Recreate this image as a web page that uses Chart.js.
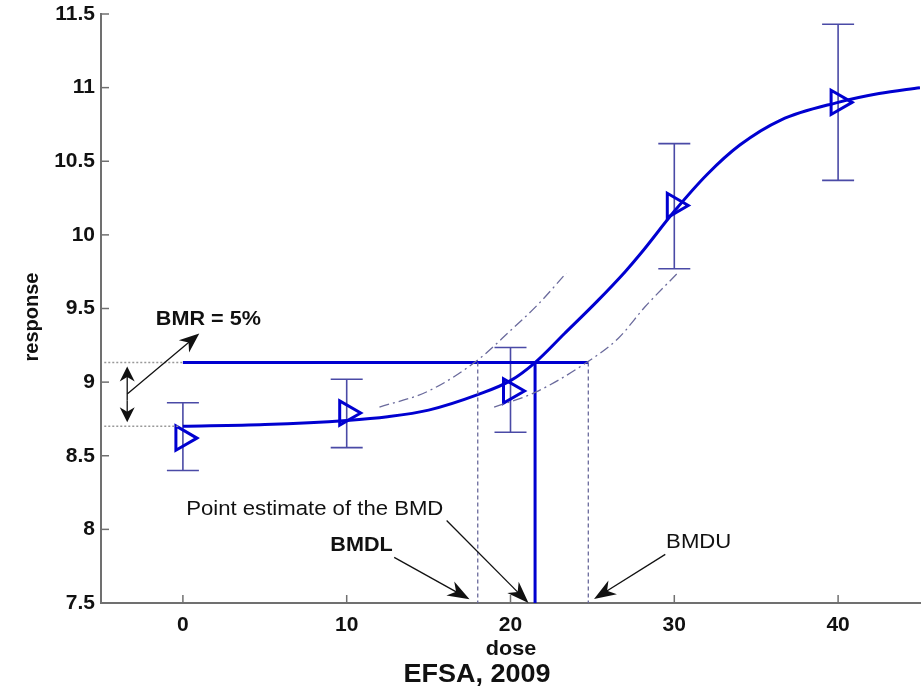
<!DOCTYPE html>
<html><head><meta charset="utf-8">
<script src="https://cdn.jsdelivr.net/npm/chart.js@4.4.0/dist/chart.umd.min.js"></script>
<style>html,body{margin:0;padding:0;background:#fff;}#wrap{width:922px;height:690px;position:relative;}</style>
</head><body><div id="wrap"><canvas id="c" width="922" height="690"></canvas></div>
<script>
// ---- data ----
const doses = [0, 10, 20, 30, 40];
const meanResponse = [8.62, 8.79, 8.94, 10.20, 10.90];
const lowerBound = [8.40, 8.555, 8.66, 9.77, 10.37];
const upperBound = [8.86, 9.02, 9.235, 10.62, 11.43];

const fitDose = [0, 5, 10, 12.5, 15, 18, 20, 21.5, 23.3, 25.3, 27, 28, 30, 32, 34, 36.5, 40, 42.5, 45];
const fitResponse = [8.70, 8.712, 8.74, 8.765, 8.81, 8.915, 9.01, 9.133, 9.33, 9.55, 9.75, 9.88, 10.16, 10.41, 10.61, 10.78, 10.90, 10.96, 11.0];

const upperBandDose = [12, 15, 18, 20, 21.7, 23.4];
const upperBandResp = [8.83, 8.94, 9.15, 9.35, 9.53, 9.74];
const lowerBandDose = [19, 21.5, 24.6, 26.6, 28.2, 30.2];
const lowerBandResp = [8.83, 8.93, 9.13, 9.30, 9.51, 9.74];

const backgroundResp = 8.70;
const bmrResp = 9.133;
const bmd = 21.5;
const bmdl = 18.0;
const bmdu = 24.75;

const xTicks = [0, 10, 20, 30, 40];
const yTicks = [7.5, 8, 8.5, 9, 9.5, 10, 10.5, 11, 11.5];
const yTickLabels = ['7.5', '8', '8.5', '9', '9.5', '10', '10.5', '11', '11.5'];

// ---- helpers ----
const pts = (xs, ys) => xs.map((x, i) => ({x: x, y: ys[i]}));
const FONT = "'Liberation Sans', Arial, Helvetica, sans-serif";
const BLUE = '#0000d0';
const EBAR = '#4a4aa6';
const THIN = '#6a6a9c';
const STRETCH = 1.08;

function drawArrow(ctx, x1, y1, x2, y2, L, W) {
  const dx = x2 - x1, dy = y2 - y1, len = Math.hypot(dx, dy);
  const ux = dx / len, uy = dy / len, nx = -uy, ny = ux;
  ctx.beginPath();
  ctx.moveTo(x1, y1);
  ctx.lineTo(x2 - ux * L * 0.6, y2 - uy * L * 0.6);
  ctx.stroke();
  ctx.beginPath();
  ctx.moveTo(x2, y2);
  ctx.lineTo(x2 - ux * L + nx * W, y2 - uy * L + ny * W);
  ctx.lineTo(x2 - ux * L * 0.7, y2 - uy * L * 0.7);
  ctx.lineTo(x2 - ux * L - nx * W, y2 - uy * L - ny * W);
  ctx.closePath();
  ctx.fill();
}

function stretchedText(ctx, txt, x, y, align) {
  ctx.save();
  ctx.translate(x, y);
  ctx.scale(STRETCH, 1);
  ctx.textAlign = align;
  ctx.fillText(txt, 0, 0);
  ctx.restore();
}

const overlay = {
  id: 'overlay',
  beforeDatasetsDraw(chart) {
    const ctx = chart.ctx, xs = chart.scales.x, ys = chart.scales.y;
    ctx.save();
    ctx.strokeStyle = EBAR; ctx.lineWidth = 1.6;
    doses.forEach((d, i) => {
      const px = xs.getPixelForValue(d);
      const pl = ys.getPixelForValue(lowerBound[i]);
      const pu = ys.getPixelForValue(upperBound[i]);
      ctx.beginPath();
      ctx.moveTo(px, pl); ctx.lineTo(px, pu);
      ctx.moveTo(px - 16, pl); ctx.lineTo(px + 16, pl);
      ctx.moveTo(px - 16, pu); ctx.lineTo(px + 16, pu);
      ctx.stroke();
    });
    ctx.restore();
  },
  afterDraw(chart) {
    const ctx = chart.ctx, xs = chart.scales.x, ys = chart.scales.y, a = chart.chartArea;
    const X = v => xs.getPixelForValue(v), Y = v => ys.getPixelForValue(v);
    ctx.save();
    // inward tick marks
    ctx.strokeStyle = '#707070'; ctx.lineWidth = 1.5;
    xTicks.forEach(v => { ctx.beginPath(); ctx.moveTo(X(v), a.bottom); ctx.lineTo(X(v), a.bottom - 8); ctx.stroke(); });
    yTicks.forEach(v => { ctx.beginPath(); ctx.moveTo(a.left, Y(v)); ctx.lineTo(a.left + 8, Y(v)); ctx.stroke(); });

    // arrows
    ctx.strokeStyle = '#111'; ctx.fillStyle = '#111'; ctx.lineWidth = 1.3;
    const midY = (Y(bmrResp) + Y(backgroundResp)) / 2 + 6;
    drawArrow(ctx, X(-3.4), midY, X(-3.4), Y(bmrResp) + 4, 15, 7.5);
    drawArrow(ctx, X(-3.4), midY, X(-3.4), Y(backgroundResp) - 4, 15, 7.5);
    drawArrow(ctx, X(-3.4), Y(8.92), X(1.0), Y(9.33), 20, 8);
    drawArrow(ctx, X(12.9), Y(7.81), X(17.5), Y(7.525), 22, 8);
    drawArrow(ctx, X(16.1), Y(8.06), X(21.1), Y(7.5), 22, 8);
    drawArrow(ctx, X(29.45), Y(7.83), X(25.1), Y(7.527), 22, 8);

    // texts
    ctx.fillStyle = '#111';
    ctx.textBaseline = 'middle';
    ctx.font = 'bold 20px ' + FONT;
    stretchedText(ctx, 'BMR = 5%', X(-1.65), Y(9.425), 'left');
    stretchedText(ctx, 'BMDL', X(9.0), Y(7.89), 'left');
    ctx.font = '20.5px ' + FONT;
    stretchedText(ctx, 'Point estimate of the BMD', X(0.2), Y(8.135), 'left');
    stretchedText(ctx, 'BMDU', X(29.5), Y(7.91), 'left');

    ctx.font = 'bold 20px ' + FONT;
    stretchedText(ctx, 'dose', 511, 649, 'center');
    ctx.font = 'bold 25px ' + FONT;
    stretchedText(ctx, 'EFSA, 2009', 477, 675, 'center');

    ctx.translate(32, 317);
    ctx.rotate(-Math.PI / 2);
    ctx.textAlign = 'center';
    ctx.font = 'bold 20px ' + FONT;
    ctx.fillText('response', 0, 0);
    ctx.restore();
  }
};

const ctx = document.getElementById('c').getContext('2d');
new Chart(ctx, {
  type: 'scatter',
  data: {
    datasets: [
      { data: pts(upperBandDose, upperBandResp), showLine: true, borderColor: THIN, borderWidth: 1.3, borderDash: [10, 4, 2, 4], pointRadius: 0, cubicInterpolationMode: 'monotone' },
      { data: pts(lowerBandDose, lowerBandResp), showLine: true, borderColor: THIN, borderWidth: 1.3, borderDash: [10, 4, 2, 4], pointRadius: 0, cubicInterpolationMode: 'monotone' },
      { data: [{x: bmdl, y: bmrResp}, {x: bmdl, y: 7.5}], showLine: true, borderColor: THIN, borderWidth: 1.3, borderDash: [4, 3], pointRadius: 0 },
      { data: [{x: bmdu, y: bmrResp}, {x: bmdu, y: 7.5}], showLine: true, borderColor: THIN, borderWidth: 1.3, borderDash: [4, 3], pointRadius: 0 },
      { data: [{x: -4.8, y: bmrResp}, {x: 0, y: bmrResp}], showLine: true, borderColor: '#999', borderWidth: 1.6, borderDash: [2, 2], pointRadius: 0 },
      { data: [{x: -4.8, y: backgroundResp}, {x: -0.2, y: backgroundResp}], showLine: true, borderColor: '#999', borderWidth: 1.6, borderDash: [2, 2], pointRadius: 0 },
      { data: [{x: 0, y: bmrResp}, {x: bmdu, y: bmrResp}], showLine: true, borderColor: BLUE, borderWidth: 3, pointRadius: 0 },
      { data: [{x: bmd, y: bmrResp}, {x: bmd, y: 7.5}], showLine: true, borderColor: BLUE, borderWidth: 3, pointRadius: 0 },
      { data: pts(fitDose, fitResponse), showLine: true, borderColor: BLUE, borderWidth: 3, pointRadius: 0, cubicInterpolationMode: 'monotone' },
      { data: pts(doses, meanResponse), showLine: false, pointStyle: 'triangle', rotation: 90, pointRadius: 14, pointHoverRadius: 14, borderColor: BLUE, borderWidth: 3, backgroundColor: 'rgba(0,0,0,0)' }
    ]
  },
  options: {
    responsive: false,
    devicePixelRatio: 1,
    animation: false,
    events: [],
    layout: { autoPadding: false, padding: { left: 0, top: 14, right: 2, bottom: 0 } },
    plugins: { legend: { display: false }, tooltip: { enabled: false } },
    scales: {
      x: {
        type: 'linear', min: -5, max: 45,
        afterBuildTicks: s => { s.ticks = xTicks.map(v => ({value: v})); },
        afterFit: s => { s.height = 87; s.paddingLeft = 0; s.paddingRight = 0; },
        grid: { display: false, drawTicks: false },
        border: { display: true, color: '#707070', width: 2 },
        ticks: { color: '#111', font: { family: FONT, size: 21, weight: 'bold' }, padding: 10 }
      },
      y: {
        type: 'linear', min: 7.5, max: 11.5,
        afterBuildTicks: s => { s.ticks = yTicks.map(v => ({value: v})); },
        afterFit: s => { s.width = 101; s.paddingTop = 0; s.paddingBottom = 0; },
        grid: { display: false, drawTicks: false },
        border: { display: true, color: '#707070', width: 2 },
        ticks: { color: '#111', font: { family: FONT, size: 21, weight: 'bold' }, padding: 6,
                 callback: (v, i) => yTickLabels[i] }
      }
    }
  },
  plugins: [overlay]
});
</script></body></html>
